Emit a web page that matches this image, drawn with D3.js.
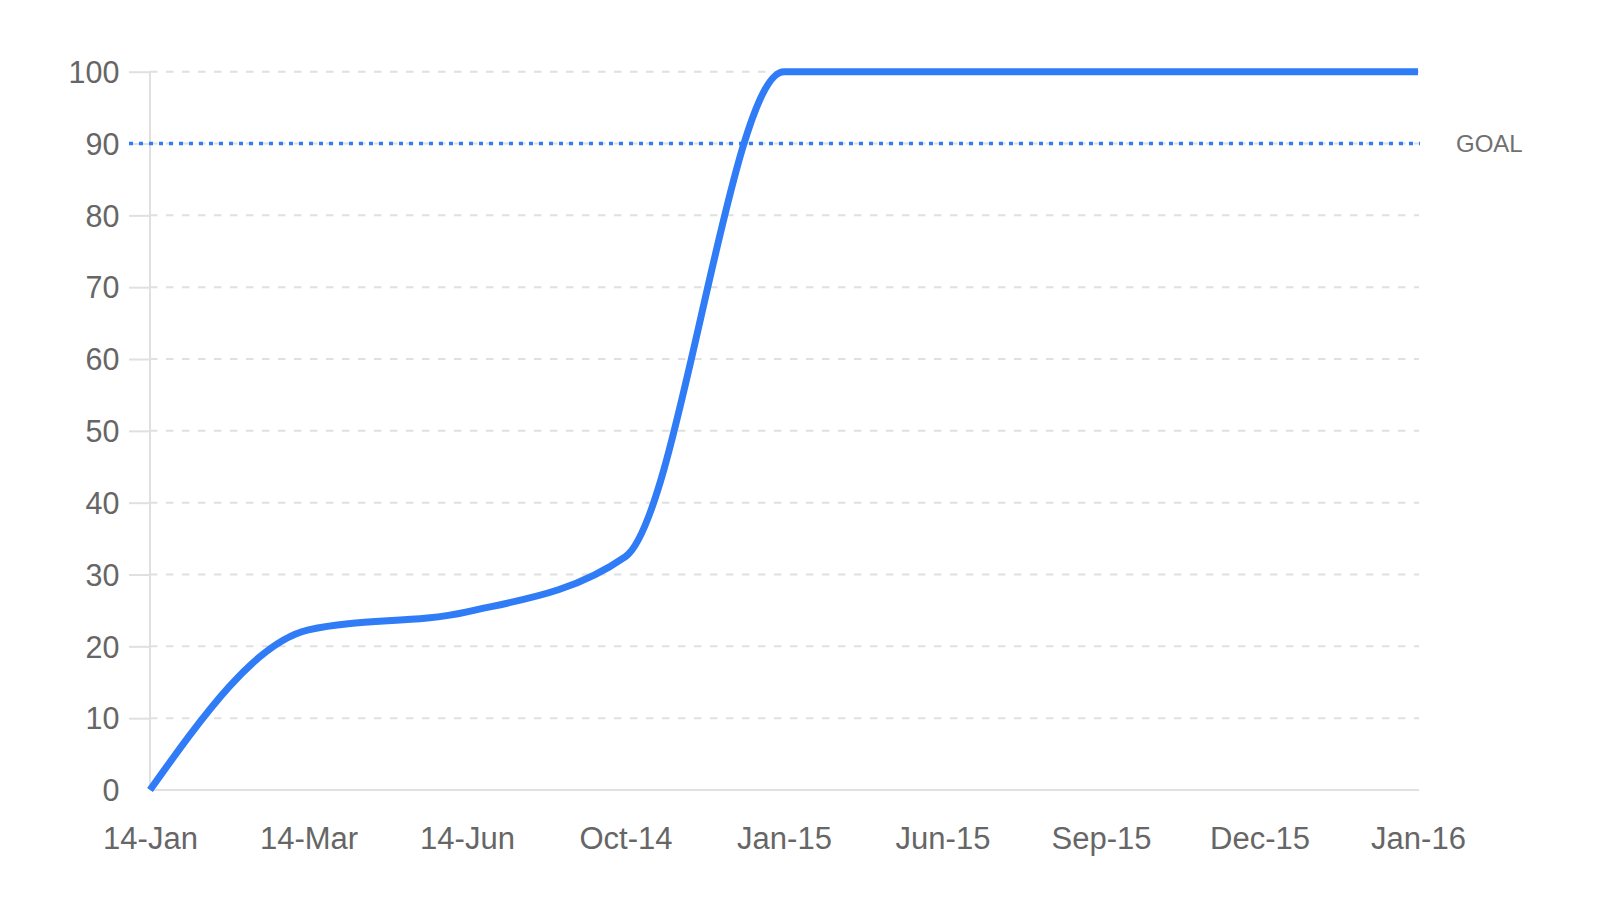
<!DOCTYPE html>
<html>
<head>
<meta charset="utf-8">
<script src="https://cdn.jsdelivr.net/npm/d3@7/dist/d3.min.js"></script>
<style>
  html, body { margin: 0; padding: 0; background: #ffffff; }
  svg { display: block; }
</style>
</head>
<body>
<svg id="chart" width="1600" height="900"></svg>
<script>
// ---- data ----
const categories = ["14-Jan", "14-Mar", "14-Jun", "Oct-14", "Jan-15", "Jun-15", "Sep-15", "Dec-15", "Jan-16"];
const values = [0, 22.3, 24.8, 32.5, 100, 100, 100, 100, 100];
const yTicks = [0, 10, 20, 30, 40, 50, 60, 70, 80, 90, 100];
const goalValue = 90;
const goalLabel = "GOAL";

// ---- layout ----
const svg = d3.select("#chart");
const plotLeft = 150, plotRight = 1418, plotTop = 71.7, plotBottom = 790;
const blue = "#2F7CF6";
const grid = "#e0e0e0";
const textCol = "#666666";
const font = "'Liberation Sans', Arial, Helvetica, sans-serif";

const x = d3.scalePoint().domain(categories).range([plotLeft, plotRight]).padding(0);
const y = d3.scaleLinear().domain([0, 100]).range([plotBottom, plotTop]);

// gridlines (dashed)
svg.append("g")
  .selectAll("line")
  .data(yTicks.filter(d => d > 0))
  .join("line")
  .attr("x1", plotLeft).attr("x2", plotRight + 1)
  .attr("y1", d => y(d)).attr("y2", d => y(d))
  .attr("stroke", grid)
  .attr("stroke-width", 2)
  .attr("stroke-dasharray", "7.5 8.5");

// y axis
const yAxis = d3.axisLeft(y)
  .tickValues(yTicks)
  .tickSize(21)
  .tickPadding(9.5)
  .tickFormat(d3.format("d"));
const gy = svg.append("g").attr("transform", `translate(${plotLeft},0)`).call(yAxis);
gy.select(".domain").remove();
gy.selectAll(".tick line")
  .attr("stroke", grid).attr("stroke-width", 2)
  .attr("display", d => d === 0 ? "none" : null);
gy.selectAll(".tick text")
  .attr("fill", textCol)
  .attr("font-family", font)
  .attr("font-size", 30.5)
  .attr("dy", "0.35em");

// vertical axis line
svg.append("line")
  .attr("x1", plotLeft).attr("x2", plotLeft)
  .attr("y1", y(100)).attr("y2", y(0))
  .attr("stroke", grid).attr("stroke-width", 2);

// x axis
const xAxis = d3.axisBottom(x).tickSize(0).tickPadding(37);
const gx = svg.append("g").attr("transform", `translate(0,${plotBottom})`).call(xAxis);
gx.select(".domain").remove();
gx.selectAll(".tick text")
  .attr("fill", textCol)
  .attr("font-family", font)
  .attr("font-size", 31);

svg.append("line")
  .attr("x1", plotLeft).attr("x2", plotRight + 1)
  .attr("y1", y(0)).attr("y2", y(0))
  .attr("stroke", grid).attr("stroke-width", 2);

// goal line (dotted)
svg.append("line")
  .attr("x1", plotLeft - 21).attr("x2", plotRight + 2)
  .attr("y1", y(goalValue)).attr("y2", y(goalValue))
  .attr("stroke", blue)
  .attr("stroke-width", 3.5)
  .attr("stroke-dasharray", "4 6");

svg.append("text")
  .attr("x", 1456)
  .attr("y", y(goalValue))
  .attr("dy", "0.36em")
  .attr("fill", "#707070")
  .attr("font-family", font)
  .attr("font-size", 24)
  .text(goalLabel);

// data line
const line = d3.line()
  .x((d, i) => x(categories[i]))
  .y(d => y(d))
  .curve(d3.curveMonotoneX);

svg.append("path")
  .datum(values)
  .attr("d", line)
  .attr("fill", "none")
  .attr("stroke", blue)
  .attr("stroke-width", 7)
  .attr("stroke-linejoin", "round");
</script>
</body>
</html>
